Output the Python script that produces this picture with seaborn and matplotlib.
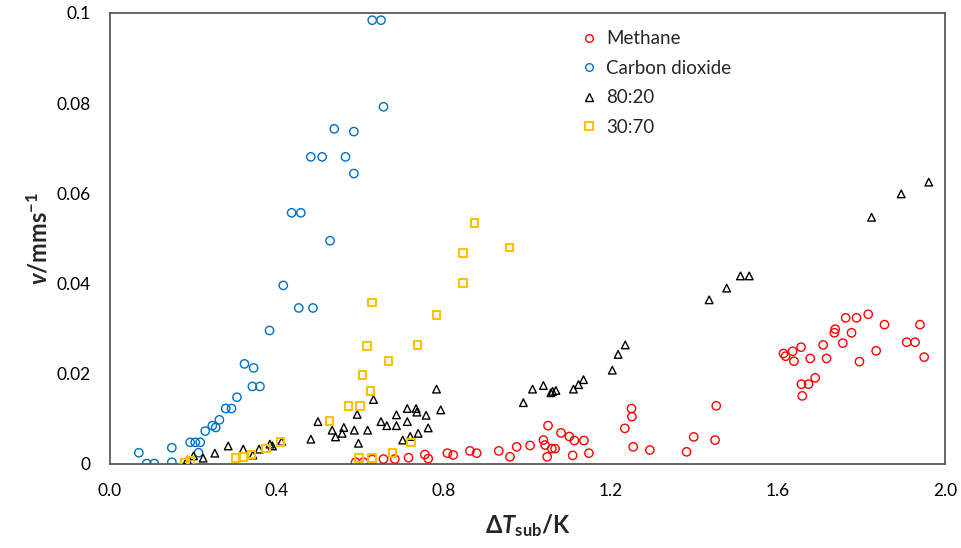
import matplotlib
matplotlib.use("Agg")
import matplotlib.pyplot as plt
from matplotlib.lines import Line2D
from matplotlib.ticker import FuncFormatter
import seaborn as sns
import pandas as pd

# Methane
methane_x = [0.588, 0.607, 0.628, 0.655, 0.682, 0.715, 0.754, 0.762, 0.808, 0.822,
             0.862, 0.878, 0.931, 0.958, 0.974, 1.006, 1.038, 1.042, 1.049, 1.047,
             1.058, 1.066, 1.080, 1.100, 1.112, 1.108, 1.135, 1.147, 1.249, 1.250,
             1.233, 1.253, 1.293, 1.381, 1.398, 1.449, 1.452, 1.613, 1.618, 1.635,
             1.638, 1.655, 1.677, 1.656, 1.673, 1.689, 1.658, 1.708, 1.716, 1.737,
             1.735, 1.755, 1.762, 1.776, 1.788, 1.795, 1.816, 1.835, 1.855, 1.908,
             1.928, 1.940, 1.950]
methane_y = [0.0004, 0.0004, 0.0010, 0.0011, 0.0011, 0.0014, 0.0021, 0.0012, 0.0024, 0.0020,
             0.0029, 0.0024, 0.0029, 0.0016, 0.0038, 0.0041, 0.0053, 0.0042, 0.0085, 0.0016,
             0.0034, 0.0034, 0.0069, 0.0061, 0.0052, 0.0019, 0.0052, 0.0024, 0.0123, 0.0105,
             0.0079, 0.0038, 0.0031, 0.0027, 0.0060, 0.0053, 0.0129, 0.0245, 0.0239, 0.0250,
             0.0228, 0.0259, 0.0234, 0.0177, 0.0177, 0.0191, 0.0151, 0.0264, 0.0234, 0.0299,
             0.0291, 0.0268, 0.0324, 0.0291, 0.0324, 0.0227, 0.0332, 0.0251, 0.0309, 0.0270,
             0.0270, 0.0309, 0.0237]

# Carbon dioxide
co2_x = [0.069, 0.088, 0.106, 0.148, 0.148, 0.192, 0.204, 0.212, 0.216, 0.228,
         0.245, 0.253, 0.262, 0.277, 0.291, 0.304, 0.322, 0.341, 0.344, 0.359,
         0.382, 0.415, 0.435, 0.452, 0.457, 0.481, 0.486, 0.508, 0.527, 0.537,
         0.564, 0.584, 0.584, 0.628, 0.649, 0.655]
co2_y = [0.0025, 0.0001, 0.0001, 0.0004, 0.0036, 0.0048, 0.0048, 0.0025, 0.0048, 0.0073,
         0.0085, 0.0081, 0.0098, 0.0123, 0.0123, 0.0148, 0.0222, 0.0172, 0.0213, 0.0172,
         0.0296, 0.0396, 0.0557, 0.0346, 0.0557, 0.0681, 0.0346, 0.0681, 0.0495, 0.0743,
         0.0681, 0.0737, 0.0644, 0.0984, 0.0984, 0.0792]

# 80:20 mixture
mix8020_x = [0.185, 0.200, 0.223, 0.251, 0.283, 0.319, 0.342, 0.357, 0.383, 0.389,
             0.411, 0.481, 0.498, 0.532, 0.540, 0.556, 0.560, 0.585, 0.592, 0.595,
             0.617, 0.631, 0.649, 0.663, 0.686, 0.686, 0.701, 0.712, 0.712, 0.719,
             0.733, 0.735, 0.738, 0.757, 0.762, 0.782, 0.792, 0.990, 1.012, 1.038,
             1.056, 1.060, 1.068, 1.110, 1.122, 1.134, 1.203, 1.217, 1.234, 1.435,
             1.477, 1.510, 1.531, 1.824, 1.895, 1.961]
mix8020_y = [0.0009, 0.0018, 0.0013, 0.0024, 0.0040, 0.0033, 0.0020, 0.0033, 0.0044, 0.0040,
             0.0050, 0.0055, 0.0094, 0.0075, 0.0060, 0.0068, 0.0081, 0.0075, 0.0110, 0.0046,
             0.0075, 0.0143, 0.0094, 0.0085, 0.0085, 0.0109, 0.0053, 0.0094, 0.0123, 0.0061,
             0.0123, 0.0115, 0.0068, 0.0108, 0.0080, 0.0166, 0.0120, 0.0136, 0.0166, 0.0174,
             0.0158, 0.0161, 0.0163, 0.0166, 0.0176, 0.0187, 0.0208, 0.0243, 0.0264, 0.0364,
             0.0390, 0.0417, 0.0417, 0.0547, 0.0599, 0.0625]

# 30:70 mixture
mix3070_x = [0.180, 0.193, 0.302, 0.319, 0.339, 0.373, 0.408, 0.526, 0.571, 0.598,
             0.596, 0.605, 0.615, 0.624, 0.628, 0.628, 0.667, 0.677, 0.721, 0.736,
             0.782, 0.846, 0.846, 0.873, 0.957]
mix3070_y = [0.0003, 0.0006, 0.0013, 0.0016, 0.0021, 0.0034, 0.0049, 0.0095, 0.0129, 0.0129,
             0.0013, 0.0197, 0.0262, 0.0162, 0.0358, 0.0013, 0.0228, 0.0025, 0.0048, 0.0264,
             0.0330, 0.0401, 0.0468, 0.0535, 0.0480]

series_names = ["Methane", "Carbon dioxide", "80:20", "30:70"]
series_x = [methane_x, co2_x, mix8020_x, mix3070_x]
series_y = [methane_y, co2_y, mix8020_y, mix3070_y]
colors = ["#FF0000", "#0070C0", "#000000", "#FFC000"]
markers = ["o", "o", "^", "s"]
sizes = [36, 36, 30, 30]
widths = [1.0, 1.0, 1.0, 1.5]

x_ticks = [0.0, 0.4, 0.8, 1.2, 1.6, 2.0]
y_ticks = [0.0, 0.02, 0.04, 0.06, 0.08, 0.1]

sns.set_theme(style="white")
plt.rcParams["font.family"] = ["Lato", "DejaVu Sans"]
plt.rcParams["mathtext.fontset"] = "custom"
plt.rcParams["mathtext.rm"] = "Lato"
plt.rcParams["mathtext.it"] = "Lato:italic"
plt.rcParams["mathtext.bf"] = "Lato:bold"
plt.rcParams["mathtext.bfit"] = "Lato:italic:bold"

fig = plt.figure(figsize=(9.61, 5.48), dpi=100)
ax = fig.add_axes([0.1145, 0.1533, 0.8689, 0.823])

for name, xs, ys, c, m, s, lw in zip(series_names, series_x, series_y,
                                      colors, markers, sizes, widths):
    df = pd.DataFrame({"dT": xs, "v": ys})
    sns.scatterplot(data=df, x="dT", y="v", marker=m, s=s, facecolor="none",
                    edgecolor=c, linewidth=lw, ax=ax, legend=False, zorder=3)

ax.set_xlim(0, 2.0)
ax.set_ylim(0, 0.1)
ax.set_xticks(x_ticks)
ax.set_yticks(y_ticks)
ax.xaxis.set_major_formatter(FuncFormatter(lambda v, p: f"{v:.1f}"))
ax.yaxis.set_major_formatter(FuncFormatter(lambda v, p: f"{v:g}"))
ax.tick_params(axis="both", length=0, labelsize=12.5, colors="#000000", pad=14)

for sp in ax.spines.values():
    sp.set_color("#595959")
    sp.set_linewidth(1.3)

ax.set_xlabel("Δ$\\mathbfit{T}_{\\mathbf{sub}}$/K", fontsize=17, fontweight="bold",
              labelpad=9)
ax.set_ylabel("$\\mathbfit{v}$/mms$^{\\mathbf{-1}}$", fontsize=17, fontweight="bold",
              labelpad=4)

handles = [Line2D([], [], linestyle="none", marker=m, markersize=5.5,
                  markerfacecolor="none", markeredgecolor=c,
                  markeredgewidth=lw)
           for m, c, lw in zip(markers, colors, widths)]
ax.legend(handles, series_names, loc="upper left", frameon=False,
          bbox_to_anchor=(0.558, 0.978), fontsize=13.5, handlelength=0.6,
          handletextpad=0.6, labelspacing=0.66, borderaxespad=0)

fig.savefig("out.png", dpi=100)
